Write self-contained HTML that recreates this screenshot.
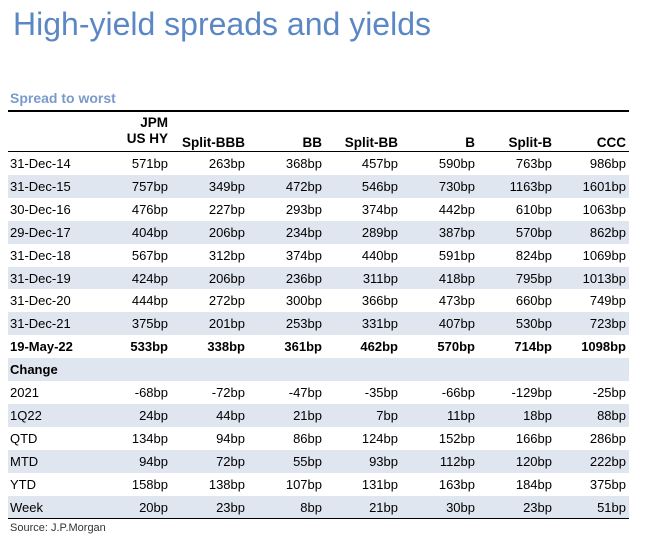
<!DOCTYPE html>
<html><head><meta charset="utf-8">
<style>
body{margin:0;width:652px;height:535px;background:#fff;font-family:"Liberation Sans",Arial,sans-serif;position:relative;overflow:hidden;color:#000}
.t{position:absolute;white-space:nowrap}
#title{left:13px;top:6px;font-size:32px;color:#5b87c5}
#sub{left:10px;top:90px;font-size:14px;font-weight:bold;color:#7a9acb}
.line{position:absolute;left:8px;width:621px;background:#000}
.shade{position:absolute;left:8px;width:621px;background:#dfe6f0}
.c{position:absolute;font-size:13px;line-height:23px;height:23px}
.r{text-align:right}
.h{font-weight:bold;font-size:13.5px;line-height:16px;text-align:right;position:absolute}
#src{left:10px;top:522px;font-size:11px;color:#333}
</style></head><body>
<div id="title" class="t">High-yield spreads and yields</div>
<div id="sub" class="t">Spread to worst</div>
<div class="line" style="top:110px;height:2px"></div>
<div class="line" style="top:151px;height:1px"></div>
<div class="line" style="top:517px;height:2px"></div>
<div id="tbl"></div>
<div id="src" class="t">Source: J.P.Morgan</div>
<script>
const columns=["JPM\nUS HY","Split-BBB","BB","Split-BB","B","Split-B","CCC"];
const rowLabels=["31-Dec-14","31-Dec-15","30-Dec-16","29-Dec-17","31-Dec-18","31-Dec-19","31-Dec-20","31-Dec-21","19-May-22","Change","2021","1Q22","QTD","MTD","YTD","Week"];
const values=[
[571,263,368,457,590,763,986],
[757,349,472,546,730,1163,1601],
[476,227,293,374,442,610,1063],
[404,206,234,289,387,570,862],
[567,312,374,440,591,824,1069],
[424,206,236,311,418,795,1013],
[444,272,300,366,473,660,749],
[375,201,253,331,407,530,723],
[533,338,361,462,570,714,1098],
null,
[-68,-72,-47,-35,-66,-129,-25],
[24,44,21,7,11,18,88],
[134,94,86,124,152,166,286],
[94,72,55,93,112,120,222],
[158,138,107,131,163,184,375],
[20,23,8,21,30,23,51]];
const boldRows=[8,9];
const colRight=[168,245,322,398,475,552,626];
const tbl=document.getElementById('tbl');
const top0=152,rh=22.9;
columns.forEach((c,j)=>{
  const d=document.createElement('div');
  d.className='h';
  
  
  const lines=c.split('\n');
  d.innerHTML=lines.join('<br>');
  d.style.right=(652-colRight[j])+'px';
  d.style.top=(lines.length>1?115:135)+'px';
  tbl.appendChild(d);
});
rowLabels.forEach((lab,i)=>{
  const y=top0+i*rh;
  if(i%2==1){
    const s=document.createElement('div');
    s.className='shade';
    
    
    s.style.top=y+'px';s.style.height=rh+'px';
    tbl.appendChild(s);
  }
  const b=boldRows.includes(i);
  const l=document.createElement('div');
  l.className='c';
  
  
  l.textContent=lab;l.style.left='10px';l.style.top=y+'px';
  if(b)l.style.fontWeight='bold';
  tbl.appendChild(l);
  if(values[i])values[i].forEach((v,j)=>{
    const d=document.createElement('div');
    d.className='c r';
    
    
    d.textContent=v+'bp';
    d.style.right=(652-colRight[j])+'px';d.style.top=y+'px';
    if(b)d.style.fontWeight='bold';
    tbl.appendChild(d);
  });
});
</script>
</body></html>
